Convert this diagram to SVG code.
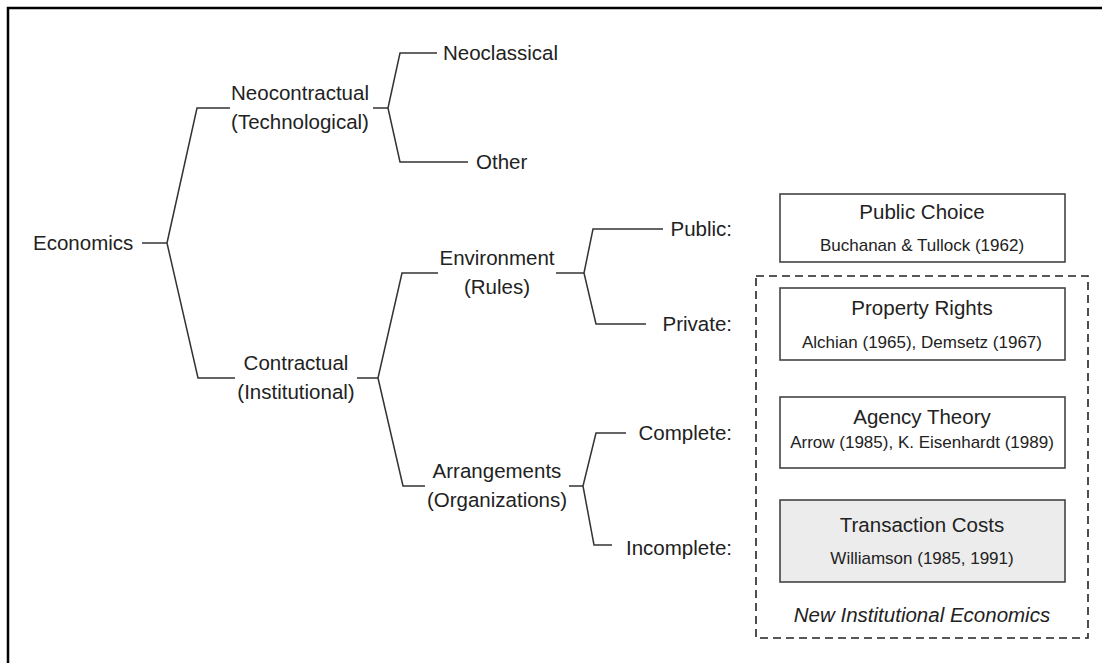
<svg xmlns="http://www.w3.org/2000/svg" width="1102" height="663" viewBox="0 0 1102 663">
<style>
.t{font-family:"Liberation Sans",Arial,sans-serif;font-size:20.5px;fill:#222}
.c{text-anchor:middle}
.e{text-anchor:end}
.s{font-family:"Liberation Sans",Arial,sans-serif;font-size:17px;fill:#222;text-anchor:middle}
.ln{fill:none;stroke:#333;stroke-width:1.5}
.box{fill:#fff;stroke:#444;stroke-width:1.6}
</style>
<rect x="0" y="0" width="1102" height="663" fill="#fff"/>
<path d="M8,663 V8 H1102" fill="none" stroke="#000" stroke-width="2.5"/>
<g id="connectors">
<path class="ln" d="M142,243 H167"/>
<path class="ln" d="M167,243 L197,108 H230 M167,243 L198,378 H235"/>
<path class="ln" d="M373,108 H388 M388,108 L400,53 H437 M388,108 L400,162 H468"/>
<path class="ln" d="M357,378 H378 M378,378 L402,273 H438 M378,378 L403,486 H425"/>
<path class="ln" d="M556,273 H584 M584,273 L593,229 H663 M584,273 L596,324 H646"/>
<path class="ln" d="M569,486 H583 M583,486 L596,433 H626 M583,486 L594,545 H612"/>
</g>
<g id="economics"><text class="t" x="33" y="250">Economics</text></g>
<g id="neocontractual"><text class="t c" x="300" y="100">Neocontractual</text><text class="t c" x="300" y="129">(Technological)</text></g>
<g id="neoclassical"><text class="t" x="443" y="60">Neoclassical</text></g>
<g id="other"><text class="t" x="476" y="169">Other</text></g>
<g id="contractual"><text class="t c" x="296" y="370">Contractual</text><text class="t c" x="296" y="399">(Institutional)</text></g>
<g id="environment"><text class="t c" x="497" y="265">Environment</text><text class="t c" x="497" y="294">(Rules)</text></g>
<g id="arrangements"><text class="t c" x="497" y="478">Arrangements</text><text class="t c" x="497" y="507">(Organizations)</text></g>
<g id="public"><text class="t e" x="732" y="236">Public:</text></g>
<g id="private"><text class="t e" x="732" y="331">Private:</text></g>
<g id="complete"><text class="t e" x="732" y="440">Complete:</text></g>
<g id="incomplete"><text class="t e" x="732" y="555">Incomplete:</text></g>
<g id="nie">
<rect x="756" y="276" width="332" height="362" fill="none" stroke="#222" stroke-width="1.6" stroke-dasharray="8 5"/>
<text class="t c" x="922" y="622" font-style="italic">New Institutional Economics</text>
</g>
<g id="public-choice"><rect class="box" x="780" y="194" width="285" height="68"/><text class="t c" x="922" y="219">Public Choice</text><text class="s" x="922" y="251">Buchanan &amp; Tullock (1962)</text></g>
<g id="property-rights"><rect class="box" x="780" y="288" width="285" height="72"/><text class="t c" x="922" y="315">Property Rights</text><text class="s" x="922" y="348">Alchian (1965), Demsetz (1967)</text></g>
<g id="agency-theory"><rect class="box" x="780" y="397" width="285" height="71"/><text class="t c" x="922" y="424">Agency Theory</text><text class="s" x="922" y="448">Arrow (1985), K. Eisenhardt (1989)</text></g>
<g id="transaction-costs"><rect class="box" x="780" y="500" width="285" height="82" style="fill:#ececec"/><text class="t c" x="922" y="532">Transaction Costs</text><text class="s" x="922" y="564">Williamson (1985, 1991)</text></g>
</svg>
